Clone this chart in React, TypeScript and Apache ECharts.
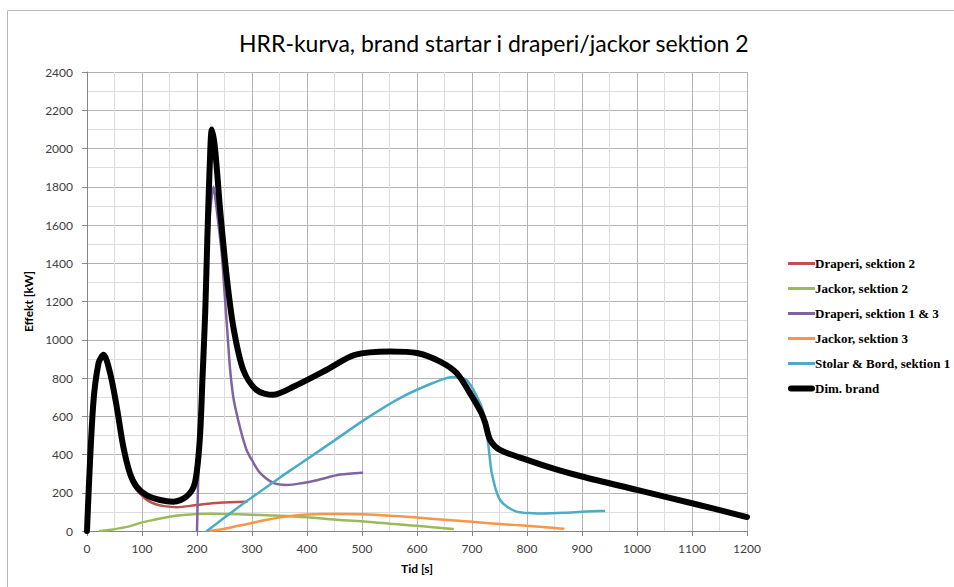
import React, { useEffect, useRef } from "react";
import * as echarts from "echarts";

const titleText = "HRR-kurva, brand startar i draperi/jackor sektion 2";
const xName = "Tid [s]";
const yName = "Effekt [kW]";

const seriesNames = [
  "Draperi, sektion 2",
  "Jackor, sektion 2",
  "Draperi, sektion 1 & 3",
  "Jackor, sektion 3",
  "Stolar & Bord, sektion 1",
  "Dim. brand",
];
const seriesColors = ["#C0504D", "#9BBB59", "#8064A2", "#F79646", "#4BACC6", "#000000"];

const draperi2T = [0, 10, 20, 30, 40, 50, 60, 70, 80, 90, 100, 110, 125, 140, 163, 200, 240, 290];
const draperi2V = [0, 600, 870, 915, 850, 690, 510, 370, 270, 215, 185, 160, 140, 130, 124, 136, 148, 153];

const jackor2T = [24, 40, 60, 80, 100, 125, 150, 175, 200, 225, 250, 300, 350, 400, 460, 509, 560, 610, 665];
const jackor2V = [0, 5, 15, 27, 45, 60, 75, 84, 89, 90, 89, 85, 80, 72, 58, 49, 36, 25, 10];

const draperi13T = [200, 202, 205, 210, 215, 220, 225, 230, 235, 240, 245, 250, 255, 260, 265, 270, 280, 290, 300, 315, 340, 363, 390, 420, 460, 500];
const draperi13V = [0, 250, 450, 750, 1150, 1500, 1700, 1800, 1700, 1580, 1450, 1250, 1050, 850, 720, 640, 520, 425, 370, 303, 250, 241, 250, 267, 295, 305];

const jackor3T = [224, 250, 275, 300, 325, 350, 375, 400, 430, 460, 500, 550, 600, 650, 700, 750, 800, 866];
const jackor3V = [0, 12, 27, 42, 57, 70, 80, 86, 89, 89, 87, 80, 70, 59, 48, 37, 27, 12];

const stolarT = [218, 250, 290, 351, 387, 448, 509, 569, 630, 666, 690, 709, 721, 730, 736, 751, 781, 811, 830, 872, 933, 940];
const stolarV = [0, 70, 155, 280, 350, 470, 590, 695, 775, 805, 790, 703, 617, 441, 303, 162, 101, 93, 92, 96, 105, 105];

const dimT = [0, 11, 21, 30, 42, 54, 66, 78, 90, 108, 133, 157, 181, 196, 205, 210, 215, 219, 223, 227, 232, 237, 242, 254, 266, 284, 308, 338, 375, 436, 487, 551, 600, 642, 672, 696, 717, 724, 733, 751, 800, 850, 900, 1000, 1100, 1200];
const dimV = [0, 650, 878, 921, 826, 650, 441, 302, 232, 188, 162, 153, 180, 250, 476, 800, 1150, 1550, 1900, 2100, 2020, 1860, 1680, 1330, 1068, 843, 738, 712, 754, 843, 921, 939, 931, 886, 826, 722, 617, 565, 476, 424, 372, 325, 285, 215, 145, 73];

const seriesT = [draperi2T, jackor2T, draperi13T, jackor3T, stolarT, dimT];
const seriesV = [draperi2V, jackor2V, draperi13V, jackor3V, stolarV, dimV];

const xMin = 0, xMax = 1200, xStep = 100;
const yMin = 0, yMax = 2400, yStep = 200;

const zip = (t: number[], v: number[]) => t.map((x, i) => [x, v[i]]);

export default function App() {
  const ref = useRef<HTMLDivElement>(null);
  useEffect(() => {
    if (!ref.current) return;
    const chart = echarts.init(ref.current, undefined, { renderer: "svg" });
    const axisFont = "Lato, 'Open Sans', sans-serif";
    const thinIcon = "path://M0,0H27V3H0Z";
    const thickIcon = "path://M3,0H24A3,3 0 0 1 24,6H3A3,3 0 0 1 3,0Z";
    const option: any = {
      animation: false,
      backgroundColor: "#ffffff",
      title: {
        text: titleText,
        left: 234,
        top: 26,
        textStyle: { fontFamily: axisFont, fontSize: 23, fontWeight: "normal", color: "#000" },
      },
      graphic: [
        {
          type: "rect",
          shape: { x: 7.5, y: 10.5, width: 2000, height: 2000 },
          style: { fill: "none", stroke: "#b8b8b8", lineWidth: 1 },
          silent: true,
          z: -10,
        },
      ],
      grid: { left: 87, right: 207, top: 72, bottom: 56 },
      legend: {
        orient: "vertical",
        left: 783,
        top: 252,
        itemWidth: 27,
        itemHeight: 8,
        itemGap: 12,
        itemStyle: { borderWidth: 0 },
        textStyle: {
          fontFamily: "'Liberation Serif', 'Times New Roman', serif",
          fontWeight: "bold",
          fontSize: 13,
          color: "#000",
          padding: [0, 0, 0, -5],
        },
        data: seriesNames.map((n, i) => ({ name: n, icon: i === 5 ? thickIcon : thinIcon })),
      },
      xAxis: {
        type: "value",
        min: xMin,
        max: xMax,
        interval: xStep,
        name: xName,
        nameLocation: "middle",
        nameGap: 31,
        nameTextStyle: { fontFamily: axisFont, fontWeight: "bold", fontSize: 12, color: "#000" },
        axisLine: { show: true, lineStyle: { color: "#868686" } },
        axisTick: { show: true, length: 5, lineStyle: { color: "#868686" } },
        axisLabel: { fontFamily: axisFont, fontSize: 12, color: "#404040", margin: 11, formatter: (v: number) => String(v) },
        splitLine: { show: true, lineStyle: { color: "#b4b4b4" } },
        minorTick: { show: false, splitNumber: 2 },
        minorSplitLine: { show: true, lineStyle: { color: "#dddddd" } },
      },
      yAxis: {
        type: "value",
        min: yMin,
        max: yMax,
        interval: yStep,
        name: yName,
        nameLocation: "middle",
        nameGap: 41,
        nameRotate: 90,
        nameTextStyle: { fontFamily: axisFont, fontWeight: "bold", fontSize: 12, color: "#000" },
        axisLine: { show: true, lineStyle: { color: "#868686" } },
        axisTick: { show: true, length: 5, lineStyle: { color: "#868686" } },
        axisLabel: { fontFamily: axisFont, fontSize: 12, color: "#404040", margin: 14, formatter: (v: number) => String(v) },
        splitLine: { show: true, lineStyle: { color: "#b4b4b4" } },
        minorTick: { show: false, splitNumber: 2 },
        minorSplitLine: { show: true, lineStyle: { color: "#dddddd" } },
      },
      series: seriesNames.map((n, i) => ({
        name: n,
        type: "line",
        data: zip(seriesT[i], seriesV[i]),
        smooth: 0.3,
        symbol: "none",
        showSymbol: false,
        color: seriesColors[i],
        lineStyle: { color: seriesColors[i], width: i === 5 ? 6 : 2.5, cap: "round", join: "round" },
        z: i === 5 ? 5 : 2,
      })),
    };
    chart.setOption(option);
    return () => chart.dispose();
  }, []);
  return (
    <div
      ref={ref}
      style={{ position: "fixed", left: 0, top: 0, width: 954, height: 587 }}
    />
  );
}
